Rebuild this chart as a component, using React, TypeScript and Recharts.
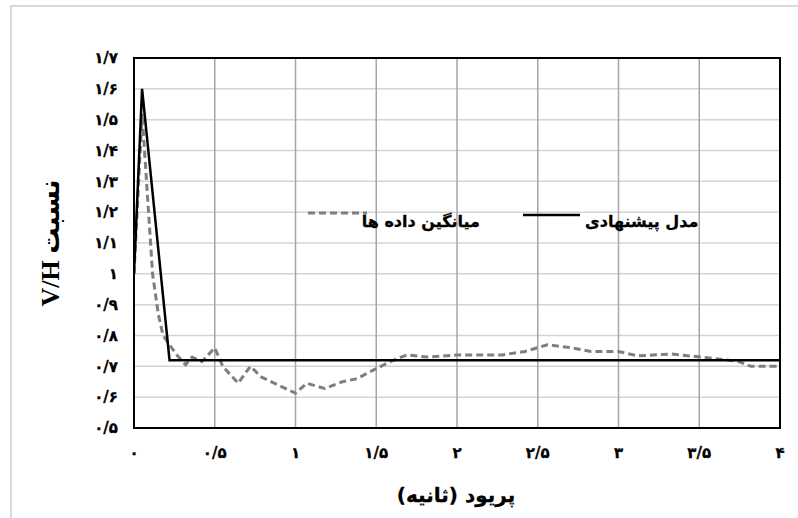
import React from 'react';
import { LineChart, Line, XAxis, YAxis, CartesianGrid, ReferenceArea } from 'recharts';

// ---- data ----
const seriesNames = ['میانگین داده ها', 'مدل پیشنهادی'];

const avgX = [0, 0.05, 0.115, 0.15, 0.18, 0.22, 0.26, 0.32, 0.36, 0.42, 0.5, 0.55, 0.645, 0.72, 0.79, 0.89, 1.0, 1.07, 1.18, 1.29, 1.38, 1.49, 1.59, 1.69, 1.82, 2.0, 2.28, 2.42, 2.56, 2.71, 2.83, 3.0, 3.12, 3.33, 3.51, 3.74, 3.82, 4.0];
const avgY = [1.0, 1.52, 1.0, 0.87, 0.8, 0.77, 0.74, 0.705, 0.73, 0.715, 0.76, 0.7, 0.645, 0.7, 0.665, 0.64, 0.613, 0.645, 0.628, 0.65, 0.66, 0.69, 0.716, 0.737, 0.73, 0.737, 0.737, 0.748, 0.77, 0.76, 0.748, 0.748, 0.734, 0.74, 0.73, 0.716, 0.7, 0.7];

const modelX = [0, 0.05, 0.22, 4];
const modelY = [1.0, 1.6, 0.72, 0.72];

const xTicks = [0, 0.5, 1, 1.5, 2, 2.5, 3, 3.5, 4];
const yTicks = [0.5, 0.6, 0.7, 0.8, 0.9, 1, 1.1, 1.2, 1.3, 1.4, 1.5, 1.6, 1.7];

const xTitle = 'پریود (ثانیه)';
const yTitle = 'نسبت  V/H';

const avgData = avgX.map((x, i) => ({ x, y: avgY[i] }));
const modelData = modelX.map((x, i) => ({ x, y: modelY[i] }));

const faDigits = '۰۱۲۳۴۵۶۷۸۹';
const fmt = (v: number) =>
  String(Math.round(v * 10) / 10)
    .replace('.', '/')
    .replace(/[0-9]/g, (d) => faDigits[+d]);

const FONT = "'DejaVu Sans', sans-serif";
const tickStyle = { fontFamily: FONT, fontWeight: 700, fontSize: 15, fill: '#000', stroke: '#000', strokeWidth: 0.3 };

export default function App() {
  return (
    <div style={{ position: 'absolute', left: 0, top: 0, width: 798, height: 518, background: '#fff', overflow: 'hidden' }}>
      <div style={{ position: 'absolute', left: 10, top: 5, width: 800, height: 530, border: '2px solid #d9d9d9', boxSizing: 'border-box' }} />
      <LineChart width={798} height={518} data={avgData} margin={{ top: 58, right: 18, bottom: 60, left: 74 }} style={{ position: 'absolute', left: 0, top: 0 }}>
        <CartesianGrid horizontal={true} vertical={false} stroke="#d4d4d4" strokeWidth={1.5} />
        <CartesianGrid horizontal={false} vertical={true} stroke="#a6a6a6" strokeWidth={1.5} />
        <XAxis
          type="number"
          dataKey="x"
          domain={[0, 4]}
          ticks={xTicks}
          tickFormatter={fmt}
          tick={tickStyle}
          tickLine={false}
          tickSize={0}
          tickMargin={19}
          axisLine={false}
          height={30}
          allowDataOverflow
        />
        <YAxis
          type="number"
          dataKey="y"
          domain={[0.5, 1.7]}
          ticks={yTicks}
          tickFormatter={fmt}
          tick={tickStyle}
          tickLine={false}
          tickSize={0}
          tickMargin={16}
          axisLine={false}
          width={60}
          allowDataOverflow
        />
        <Line
          data={avgData}
          dataKey="y"
          name={seriesNames[0]}
          stroke="#7f7f7f"
          strokeWidth={3}
          strokeDasharray="7 4"
          dot={false}
          type="linear"
          isAnimationActive={false}
        />
        <Line
          data={modelData}
          dataKey="y"
          name={seriesNames[1]}
          stroke="#000"
          strokeWidth={2.5}
          dot={false}
          type="linear"
          isAnimationActive={false}
        />
        <ReferenceArea x1={0} x2={4} y1={0.5} y2={1.7} fill="none" stroke="#000" strokeWidth={2} ifOverflow="visible" />
      </LineChart>

      {/* legend */}
      <svg width={798} height={518} style={{ position: 'absolute', left: 0, top: 0, pointerEvents: 'none' }}>
        <line x1={308} y1={213} x2={367} y2={213} stroke="#7f7f7f" strokeWidth={3} strokeDasharray="7 4" />
        <line x1={523} y1={215} x2={580} y2={215} stroke="#000" strokeWidth={2.5} />
      </svg>
      <div style={{ position: 'absolute', left: 480, top: 221, transform: 'translate(-100%, -50%)', whiteSpace: 'nowrap', direction: 'rtl', fontFamily: FONT, fontWeight: 700, fontSize: 16, color: '#000', WebkitTextStroke: '0.3px #000' }}>
        {seriesNames[0]}
      </div>
      <div style={{ position: 'absolute', left: 585, top: 221, transform: 'translate(0, -50%)', whiteSpace: 'nowrap', direction: 'rtl', fontFamily: FONT, fontWeight: 700, fontSize: 16, color: '#000', WebkitTextStroke: '0.3px #000' }}>
        {seriesNames[1]}
      </div>

      {/* axis titles */}
      <div style={{ position: 'absolute', left: 50, top: 243, transform: 'translate(-50%, -50%) rotate(-90deg)', whiteSpace: 'nowrap', direction: 'rtl', fontFamily: "'Liberation Serif', 'DejaVu Sans', serif", fontWeight: 700, fontSize: 26, color: '#000' }}>
        {yTitle}
      </div>
      <div style={{ position: 'absolute', left: 456, top: 495, transform: 'translate(-50%, -50%)', whiteSpace: 'nowrap', direction: 'rtl', fontFamily: FONT, fontWeight: 700, fontSize: 20, color: '#000', WebkitTextStroke: '0.3px #000' }}>
        {xTitle}
      </div>
    </div>
  );
}
